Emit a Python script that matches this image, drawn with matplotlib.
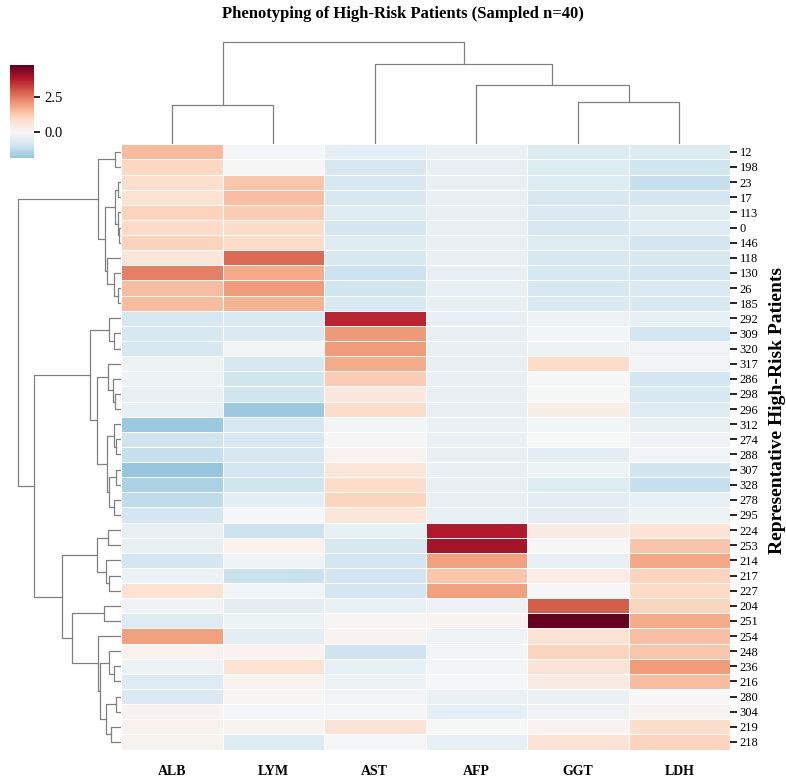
import numpy as np
import matplotlib
matplotlib.use("Agg")
import matplotlib.pyplot as plt
from matplotlib.colors import ListedColormap, Normalize

plt.rcParams['font.family'] = ['Liberation Serif', 'DejaVu Serif']

# ---- data (rows in displayed order) ----
features = ["ALB", "LYM", "AST", "AFP", "GGT", "LDH"]
patients = [12, 198, 23, 17, 113, 0, 146, 118, 130, 26, 185,
            292, 309, 320, 317, 286, 298, 296, 312, 274, 288, 307, 328, 278, 295,
            224, 253, 214, 217, 227, 204, 251, 254, 248, 236, 216, 280, 304, 219, 218]

alb = [1.5, 1.0, 0.8, 0.75, 1.1, 0.95, 1.1, 0.55, 2.4, 1.45, 1.45,
       -0.8, -0.8, -0.8, -0.25, -0.25, -0.35, -0.4, -1.75, -0.95, -1.1, -1.85, -1.5, -1.2, -0.85,
       -0.35, -0.35, -0.85, -0.25, 0.75, -0.2, -0.6, 1.95, 0.2, -0.25, -0.6, -0.7, 0.15, 0.2, 0.18]
lym = [-0.03, 0.03, 1.3, 1.45, 1.2, 0.9, 0.9, 2.7, 1.8, 2.0, 1.65,
       -0.7, -0.7, -0.15, -0.75, -0.9, -0.9, -1.75, -0.8, -0.8, -0.8, -0.85, -0.9, -0.45, -0.05,
       -1.0, 0.2, -0.2, -1.05, -0.15, -0.5, -0.25, -0.5, 0.15, 0.75, 0.12, 0.05, -0.08, 0.12, -0.65]
ast = [-0.45, -0.8, -0.75, -0.75, -0.6, -0.85, -0.6, -0.75, -1.0, -0.9, -0.75,
       3.6, 2.05, 2.0, 1.75, 1.2, 0.5, 0.9, -0.1, 0.02, 0.15, 0.55, 0.9, 1.05, 0.55,
       -0.4, -0.8, -0.85, -0.85, -0.85, -0.3, 0.05, 0.12, -0.95, -0.4, -0.25, -0.15, -0.08, 0.65, -0.05]
afp = [-0.3, -0.35, -0.35, -0.35, -0.35, -0.35, -0.35, -0.35, -0.35, -0.4, -0.4,
       -0.35, -0.35, -0.35, -0.35, -0.35, -0.35, -0.35, -0.3, -0.3, -0.35, -0.35, -0.35, -0.35, -0.35,
       3.75, 3.95, 1.95, 1.3, 1.95, -0.25, 0.15, -0.2, -0.1, -0.1, -0.05, -0.3, -0.45, 0.0, -0.4]
ggt = [-0.65, -0.65, -0.65, -0.75, -0.7, -0.8, -0.65, -0.8, -0.8, -0.8, -0.7,
       -0.25, -0.12, -0.25, 0.9, 0.0, 0.0, 0.3, -0.1, 0.0, -0.5, -0.25, -0.65, -0.5, -0.5,
       0.4, 0.02, -0.4, 0.35, 0.0, 2.85, 4.75, 0.75, 1.1, 0.65, 0.4, -0.3, -0.2, 0.12, 0.65]
ldh = [-0.65, -0.9, -1.1, -0.85, -0.55, -0.65, -0.85, -0.8, -0.85, -0.7, -0.75,
       -0.4, -0.85, -0.15, -0.15, -0.85, -0.8, -0.6, -0.35, -0.15, -0.15, -0.9, -1.1, -0.4, -0.25,
       0.65, 1.35, 1.85, 1.1, 0.95, 1.05, 1.75, 1.4, 1.3, 2.0, 1.45, 0.0, 0.12, 0.85, 1.05]

# dendrogram trees: (height, left, right), leaves = position index
row_tree = (102.7,
            (23.3,
             (6, 0, 1),
             (15.7,
              (6, (3, 2, 3), (3.5, 4, (1.8, 5, 6))),
              (14, 7, (7.3, 8, (3.3, 9, 10))))),
            (87.3,
             (30.7,
              (11.7, 11, (6.7, 12, 13)),
              (24,
               (13.3, 14, (8.3, 15, (6, 16, 17))),
               (14, (7.3, 18, (5, 19, 20)), (11.7, (5, 21, 22), (6.7, 23, 24))))),
             (59.3,
              (24, (13.3, 25, 26), (15, 27, (11.7, 28, 29))),
              (49.3,
               (16.7, 30, 31),
               (23.3, 32,
                (21, (11.7, 33, (6.7, 34, 35)), (15, (5, 36, 37), (10, 38, 39))))))))
col_tree = (102.7, (39, 0, 1), (80, 2, (59, 3, (42, 4, 5))))

data = np.array([alb, lym, ast, afp, ggt, ldh]).T

# ---- centred colormap like seaborn's center=0 ----
vmin, vmax = data.min(), data.max()
vrange = max(vmax, -vmin)
base = plt.get_cmap("RdBu_r")
cnorm = Normalize(-vrange, vrange)
cmap = ListedColormap(base(np.linspace(cnorm(vmin), cnorm(vmax), 256)))

W, H = 786, 780
fig = plt.figure(figsize=(W / 100, H / 100), dpi=100)


def box(x0, y0, x1, y1):
    return [x0 / W, 1 - y1 / H, (x1 - x0) / W, (y1 - y0) / H]


ax = fig.add_axes(box(121, 144.3, 730, 749.5))
mesh = ax.pcolormesh(data, cmap=cmap, vmin=vmin, vmax=vmax,
                     edgecolors="white", linewidth=0.5)
ax.set_xlim(0, len(features))
ax.set_ylim(len(patients), 0)
ax.set_xticks(np.arange(len(features)) + 0.5)
ax.set_xticklabels(features, fontsize=10, fontweight="bold")
ax.set_yticks(np.arange(len(patients)) + 0.5)
ax.set_yticklabels([str(p) for p in patients], fontsize=9)
ax.yaxis.tick_right()
ax.tick_params(axis="y", length=5, width=1.2, pad=2)
ax.tick_params(axis="x", length=0, pad=11)
for s in ax.spines.values():
    s.set_visible(False)

fig.text(777 / W, 1 - 410 / H, "Representative High-Risk Patients", rotation=90,
         ha="center", va="center", fontsize=14, fontweight="bold")

dcol = "0.5"


def draw(node, ax, horizontal):
    # returns (position, height)
    if not isinstance(node, tuple):
        return node + 0.5, 0.0
    h, a, b = node
    pa, ha = draw(a, ax, horizontal)
    pb, hb = draw(b, ax, horizontal)
    if horizontal:
        ax.plot([ha, h, h, hb], [pa, pa, pb, pb], color=dcol, lw=0.9)
    else:
        ax.plot([pa, pa, pb, pb], [ha, h, h, hb], color=dcol, lw=0.9)
    return (pa + pb) / 2, h


axr = fig.add_axes(box(11, 144.3, 121, 749.5))
draw(row_tree, axr, True)
axr.set_xlim(110, 0)
axr.set_ylim(len(patients), 0)
axr.axis("off")

axc = fig.add_axes(box(121, 34, 730, 144.3))
draw(col_tree, axc, False)
axc.set_ylim(0, 110.3)
axc.set_xlim(0, len(features))
axc.axis("off")

cax = fig.add_axes(box(10, 65, 34.3, 158.3))
cb = fig.colorbar(mesh, cax=cax, ticks=[0, 2.5])
cb.ax.set_yticklabels(["0.0", "2.5"])
cb.outline.set_linewidth(0)
cb.ax.tick_params(labelsize=10.5, length=4, width=1.2)

fig.suptitle("Phenotyping of High-Risk Patients (Sampled n=40)", x=403 / W, y=1 - 6 / H,
             fontsize=12, fontweight="bold", va="top")

fig.savefig("out.png", dpi=100)
